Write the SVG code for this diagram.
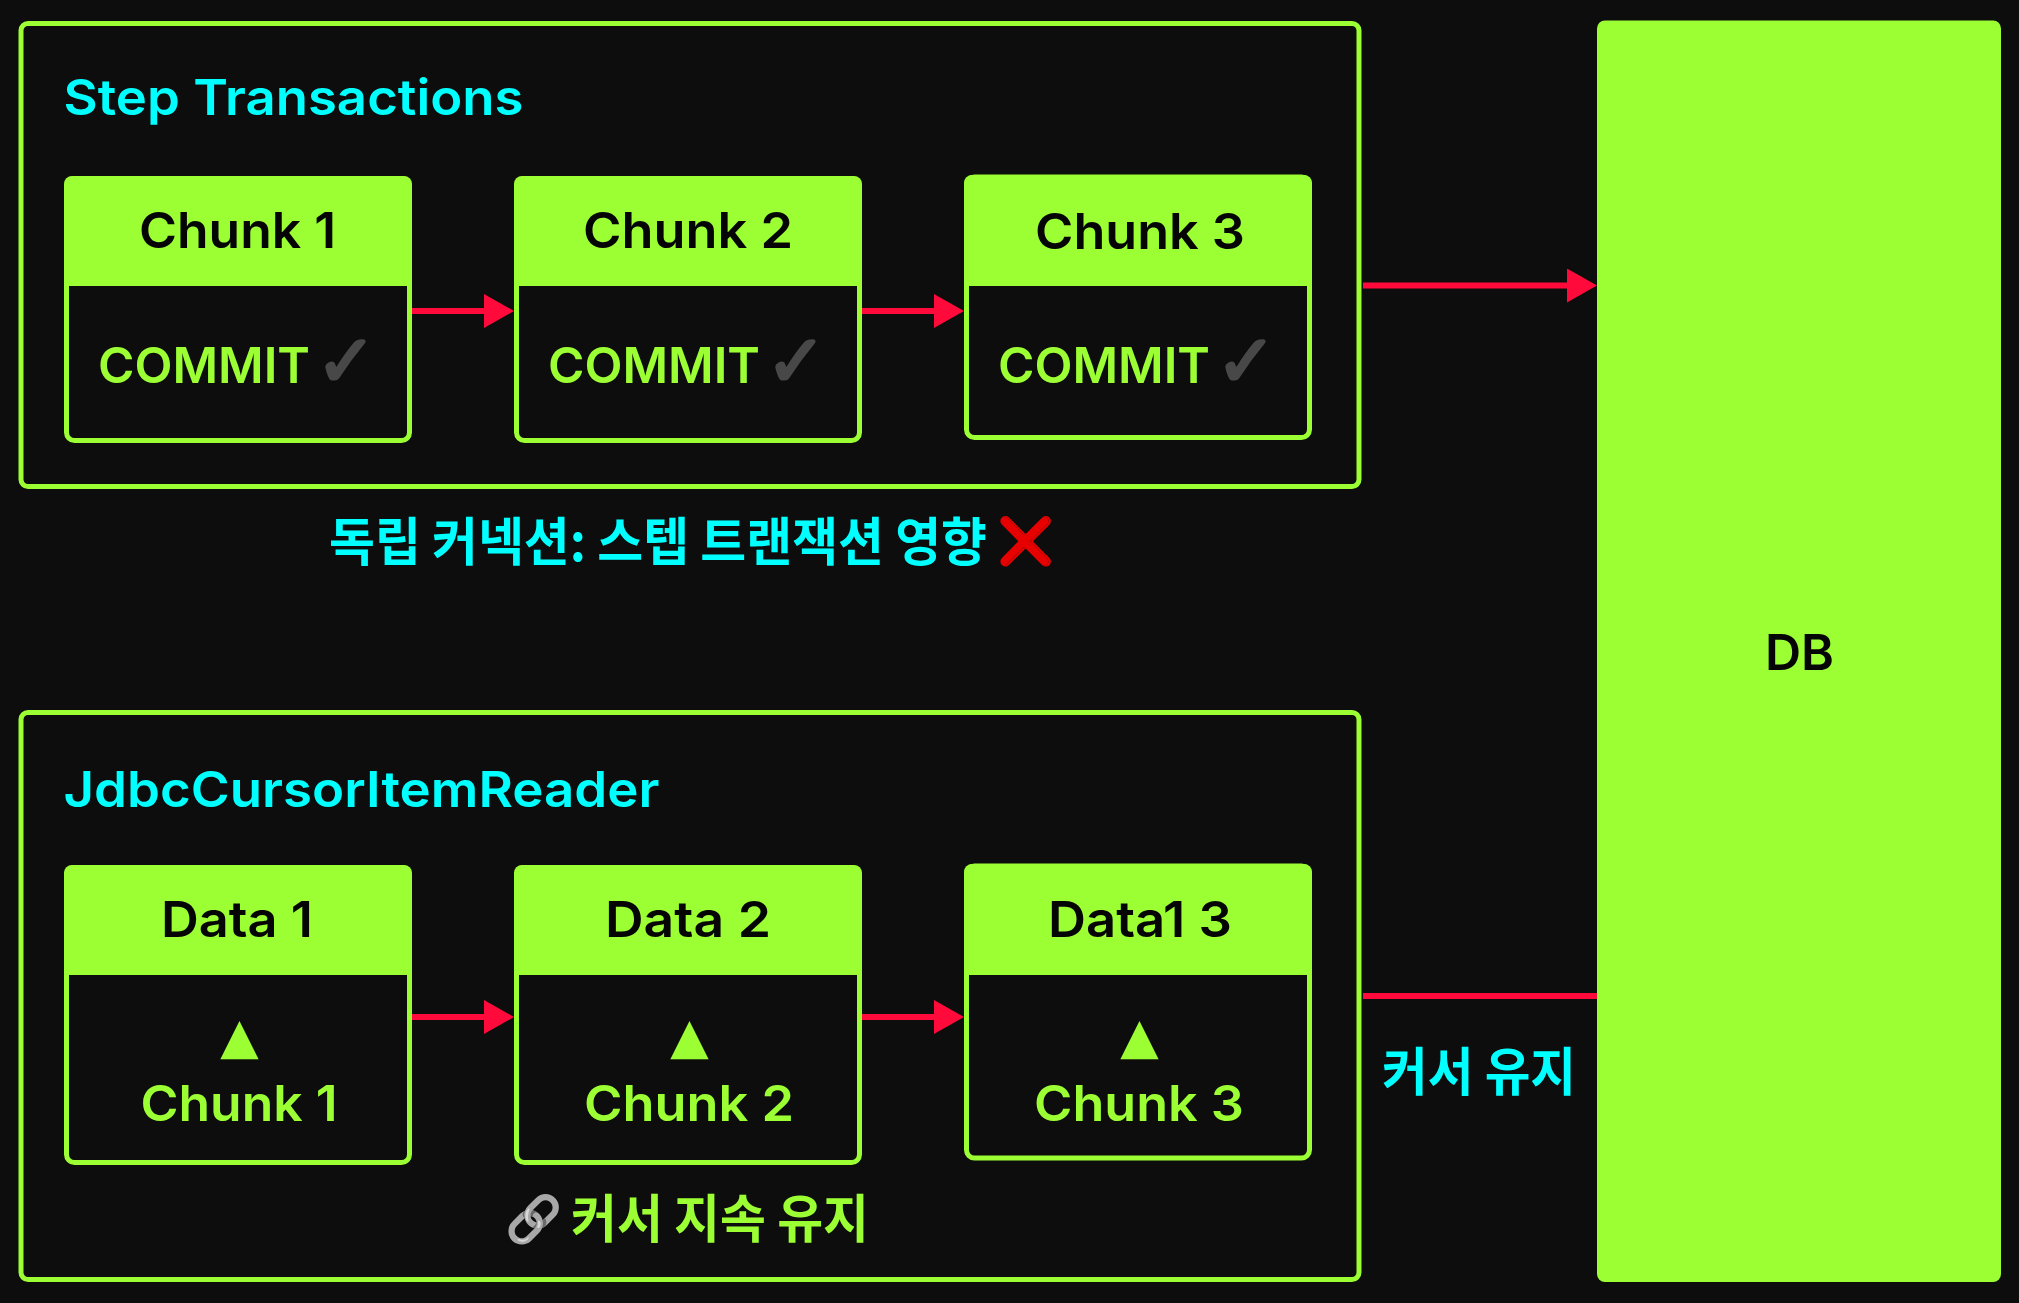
<svg xmlns="http://www.w3.org/2000/svg" width="2019" height="1303" viewBox="0 0 2019 1303">
<style>
.t{font-family:"Inter","Liberation Sans",sans-serif;font-weight:600;font-size:50px}
.k{font-family:"Noto Sans CJK KR","Noto Sans",sans-serif;font-weight:700;font-size:52px}
.s{font-family:"DejaVu Sans",sans-serif}
.cy{fill:#00ffff}.gr{fill:#9bff33}.bk{fill:#050505}
.outer{fill:none;stroke:#9bff33;stroke-width:5}
.box{fill:#0d0d0d;stroke:#9bff33;stroke-width:5}
.head{fill:#9bff33}
.arrow{fill:none;stroke:#ff0a3a;stroke-width:6}
.chk{fill:#484848;stroke:#484848;stroke-width:3;font-size:72px}
.tri{fill:#9bff33;font-size:50px}
.em{font-family:"Noto Color Emoji","Noto Sans",sans-serif}
</style>
<defs>
<marker id="ah" viewBox="0 0 30 34" refX="1" refY="17" markerWidth="30" markerHeight="34" markerUnits="userSpaceOnUse" orient="auto"><polygon points="0,0 30,17 0,34" fill="#ff0a3a"/></marker>
<filter id="solid" x="0" y="0" width="1" height="1" color-interpolation-filters="sRGB"><feFlood flood-color="#e60000"/><feComposite in2="SourceAlpha" operator="in"/></filter>
<filter id="silver" color-interpolation-filters="sRGB"><feColorMatrix type="saturate" values="0"/></filter>
</defs>
<rect width="2019" height="1303" fill="#0d0d0d"/>

<g id="step-transactions">
<rect class="outer" x="21" y="23.5" width="1338" height="463" rx="7"/>
<text class="t cy" x="63.500" y="115" textLength="460" lengthAdjust="spacingAndGlyphs">Step Transactions</text>
</g>
<g id="cursor-reader">
<rect class="outer" x="21" y="712.5" width="1338" height="567" rx="7"/>
<text class="t cy" x="63.500" y="806.5" textLength="596" lengthAdjust="spacingAndGlyphs">JdbcCursorItemReader</text>
</g>

<g id="chunk-1">
<rect class="box" x="66.5" y="178.5" width="343" height="262" rx="8"/>
<path class="head" d="M64 286V184a8 8 0 0 1 8-8H404a8 8 0 0 1 8 8V286Z"/>
<text class="t bk" x="139" y="248" textLength="197" lengthAdjust="spacingAndGlyphs">Chunk 1</text>
<text class="t gr" x="98" y="382.5" textLength="212" lengthAdjust="spacingAndGlyphs">COMMIT</text>
<text class="s chk" x="316" y="386">✓</text>
</g>
<g id="chunk-2">
<rect class="box" x="516.5" y="178.5" width="343" height="262" rx="8"/>
<path class="head" d="M514 286V184a8 8 0 0 1 8-8H854a8 8 0 0 1 8 8V286Z"/>
<text class="t bk" x="583" y="248" textLength="210" lengthAdjust="spacingAndGlyphs">Chunk 2</text>
<text class="t gr" x="548" y="382.5" textLength="212" lengthAdjust="spacingAndGlyphs">COMMIT</text>
<text class="s chk" x="766" y="386">✓</text>
</g>
<g id="chunk-3">
<rect class="box" x="966.5" y="177" width="343" height="260.5" rx="8"/>
<path class="head" d="M964 286V183a8 8 0 0 1 8-8H1304a8 8 0 0 1 8 8V286Z"/>
<text class="t bk" x="1035" y="248.5" textLength="210" lengthAdjust="spacingAndGlyphs">Chunk 3</text>
<text class="t gr" x="998" y="382.5" textLength="212" lengthAdjust="spacingAndGlyphs">COMMIT</text>
<text class="s chk" x="1216" y="386">✓</text>
</g>

<g id="data-1">
<rect class="box" x="66.5" y="867.5" width="343" height="295" rx="8"/>
<path class="head" d="M64 975V873a8 8 0 0 1 8-8H404a8 8 0 0 1 8 8V975Z"/>
<text class="t bk" x="161" y="937" textLength="152" lengthAdjust="spacingAndGlyphs">Data 1</text>
<text class="s tri" x="239.500" y="1053" text-anchor="middle">▲</text>
<text class="t gr" x="140.500" y="1121" textLength="197" lengthAdjust="spacingAndGlyphs">Chunk 1</text>
</g>
<g id="data-2">
<rect class="box" x="516.5" y="867.5" width="343" height="295" rx="8"/>
<path class="head" d="M514 975V873a8 8 0 0 1 8-8H854a8 8 0 0 1 8 8V975Z"/>
<text class="t bk" x="605" y="937" textLength="166" lengthAdjust="spacingAndGlyphs">Data 2</text>
<text class="s tri" x="689.500" y="1053" text-anchor="middle">▲</text>
<text class="t gr" x="584" y="1121" textLength="210" lengthAdjust="spacingAndGlyphs">Chunk 2</text>
</g>
<g id="data-3">
<rect class="box" x="966.5" y="866" width="343" height="292" rx="8"/>
<path class="head" d="M964 975V872a8 8 0 0 1 8-8H1304a8 8 0 0 1 8 8V975Z"/>
<text class="t bk" x="1048" y="937" textLength="184" lengthAdjust="spacingAndGlyphs">Data1 3</text>
<text class="s tri" x="1139.500" y="1053" text-anchor="middle">▲</text>
<text class="t gr" x="1034" y="1121" textLength="210" lengthAdjust="spacingAndGlyphs">Chunk 3</text>
</g>

<g id="db">
<rect class="head" x="1597" y="20.500" width="404" height="1261.500" rx="8"/>
<text class="t bk" x="1799.500" y="669.500" text-anchor="middle">DB</text>
</g>

<g id="connectors">
<path class="arrow" d="M412 311H485" marker-end="url(#ah)"/>
<path class="arrow" d="M862 311H935" marker-end="url(#ah)"/>
<path class="arrow" d="M412 1017H485" marker-end="url(#ah)"/>
<path class="arrow" d="M862 1017H935" marker-end="url(#ah)"/>
<path class="arrow" d="M1363 285.500H1568" marker-end="url(#ah)"/>
<path class="arrow" d="M1363 996H1597"/>
</g>

<g id="labels">
<text class="k cy" x="329" y="561" textLength="658" lengthAdjust="spacingAndGlyphs">독립 커넥션: 스텝 트랜잭션 영향</text>
<text class="em" x="997" y="557" font-size="46" filter="url(#solid)">❌</text>
<text class="k cy" x="1382" y="1091" textLength="194" lengthAdjust="spacingAndGlyphs">커서 유지</text>
<text class="em" x="505" y="1235" font-size="46" filter="url(#silver)">🔗</text>
<text class="k gr" x="571" y="1238" textLength="298" lengthAdjust="spacingAndGlyphs">커서 지속 유지</text>
</g>
</svg>
